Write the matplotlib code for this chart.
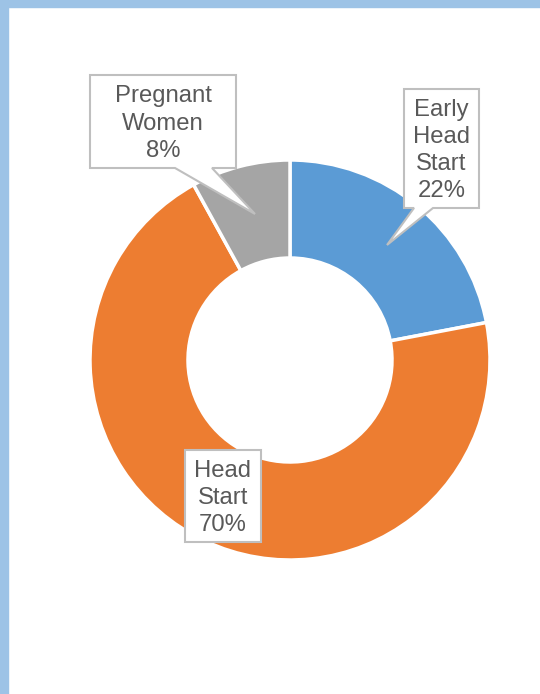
import numpy as np
import matplotlib as mpl
mpl.use('Agg')
import matplotlib.pyplot as plt
from matplotlib.patches import Polygon, Rectangle

categories = ['Early\nHead\nStart', 'Head\nStart', 'Pregnant\nWomen']
values = [22, 70, 8]
colors = ['#5B9BD5', '#ED7D31', '#A5A5A5']

W, H = 540, 694

fig = plt.figure(figsize=(W / 100, H / 100), dpi=100)
ax = fig.add_axes([0, 0, 1, 1])

# page border strips (left + top)
fig.patches.append(Rectangle((0, 0), 8 / W, 1, transform=fig.transFigure,
                             color='#9DC3E6', zorder=0))
fig.patches.append(Rectangle((0, 1 - 7 / H), 1, 7 / H, transform=fig.transFigure,
                             color='#9DC3E6', zorder=0))

# donut (pixel coords, y measured from bottom)
cx, cy = 290, H - 360
ax.pie(values, colors=colors, radius=200, center=(cx, cy), startangle=90,
       counterclock=False,
       wedgeprops=dict(width=98, edgecolor='white', linewidth=2.5))
ax.set_xlim(0, W)
ax.set_ylim(0, H)
ax.set_aspect('equal')
ax.axis('off')

def yy(y):
    return H - y

# callout shapes: box + optional pointer on bottom edge
boxes = {
    0: dict(box=(404, 89, 479, 208), ptr=(414, 433, 387, 245)),
    1: dict(box=(185, 450, 261, 542), ptr=None),
    2: dict(box=(90, 75, 236, 168), ptr=(175, 212, 255, 214)),
}

for i, cat in enumerate(categories):
    x0, y0, x1, y1 = boxes[i]['box']
    ptr = boxes[i]['ptr']
    if ptr is None:
        pts = [(x0, y0), (x1, y0), (x1, y1), (x0, y1)]
    else:
        pa, pb, tx, ty = ptr
        pts = [(x0, y0), (x1, y0), (x1, y1), (pb, y1), (tx, ty), (pa, y1), (x0, y1)]
    pts = [(p[0], yy(p[1])) for p in pts]
    ax.add_patch(Polygon(pts, closed=True, facecolor='white', edgecolor='#BFBFBF',
                         linewidth=1.5, zorder=5))
    ax.text((x0 + x1) / 2, yy((y0 + y1) / 2 + 2), '%s\n%d%%' % (cat, values[i]),
            ha='center', va='center', fontsize=17.2, color='#595959',
            family=['Liberation Sans', 'DejaVu Sans'], linespacing=1.3, zorder=6)

fig.savefig('out.png', dpi=100, facecolor='white')
